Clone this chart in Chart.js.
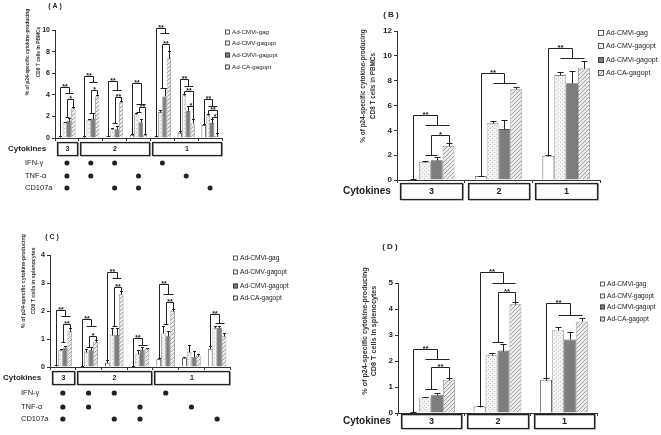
<!DOCTYPE html>
<html>
<head>
<meta charset="utf-8">
<script src="https://cdn.jsdelivr.net/npm/chart.js@4.4.0/dist/chart.umd.min.js"></script>
<style>
  html, body { margin: 0; padding: 0; background: #fff; }
  body { width: 661px; height: 435px; position: relative; overflow: hidden; }
  .panel { position: absolute; }
</style>
</head>
<body>
<div class="panel" style="left:0;top:0;width:330px;height:215px"><canvas id="chartA"></canvas></div>
<div class="panel" style="left:330px;top:0;width:331px;height:215px"><canvas id="chartB"></canvas></div>
<div class="panel" style="left:0;top:215px;width:330px;height:220px"><canvas id="chartC"></canvas></div>
<div class="panel" style="left:330px;top:215px;width:331px;height:220px"><canvas id="chartD"></canvas></div>
<script>
const seriesNames = ['Ad-CMVi-gag', 'Ad-CMV-gagopt', 'Ad-CMVi-gagopt', 'Ad-CA-gagopt']

// categories: cytokine combinations (A, C) and number of cytokines (B, D)
const comboCategories = ['IFN-γ/TNF-α/CD107a', 'IFN-γ/TNF-α', 'IFN-γ/CD107a', 'TNF-α/CD107a', 'IFN-γ', 'TNF-α', 'CD107a']
const countCategories = ['3', '2', '1']

// marker table under A and C
const markerNames = ['IFN-γ', 'TNF-α', 'CD107a']
const ifnRow = [1, 1, 1, 0, 1, 0, 0]
const tnfRow = [1, 1, 0, 1, 0, 1, 0]
const cd107aRow = [1, 0, 1, 1, 0, 0, 1]

// "Cytokines" boxes: label, first category, last category
const comboBoxes = [['3', 0, 0], ['2', 1, 3], ['1', 4, 6]]
const countBoxes = [['3', 0, 0], ['2', 1, 1], ['1', 2, 2]]

// (A) PBMCs, per combination  (one row per series)
const pbmcComboValues = [
  [0.1, 0.1, 0.15, 0.3, 0.15, 0.5, 1.2],
  [1.45, 1.7, 0.8, 2.2, 2.4, 3.95, 2.15],
  [1.6, 1.8, 0.8, 1.45, 3.85, 2.5, 1.4],
  [2.75, 3.85, 3.3, 0.25, 7.45, 1.35, 0.2],
]
const pbmcComboErrors = [
  [0.05, 0.05, 0.05, 0.1, 0.05, 0.15, 0.1],
  [0.05, 0.1, 0.1, 0.1, 0.15, 0.1, 0.1],
  [0.25, 0.5, 0.35, 0.3, 0.8, 0.45, 0.35],
  [0.15, 0.15, 0.1, 0.1, 0.6, 0.45, 0.3],
]
// significance brackets: category, left bars, left foot, right bars, right foot, top, label
const pbmcComboBrackets = [
  [0, 0, 0, null, 1, 3, 4.2, 4.75, '**'],
  [0, 1, 2, 1.97, 3, 3, null, 3.58, '*'],
  [1, 0, 0, null, 1, 3, 5.2, 5.74, '**'],
  [1, 1, 2, 2.3, 3, 3, null, 4.44, '*'],
  [2, 0, 0, null, 1, 3, 4.45, 5.28, '**'],
  [2, 1, 2, 1.4, 3, 3, null, 3.8, '**'],
  [3, 0, 0, null, 1, 3, 3.15, 5.1, '**'],
  [3, 1, 2, 2.45, 3, 3, null, 2.84, '**'],
  [4, 0, 0, null, 1, 3, 9.7, 10.15, '**'],
  [4, 1, 2, 4.6, 3, 3, null, 8.7, '**'],
  [5, 0, 0, null, 1, 3, 4.8, 5.43, '**'],
  [5, 1, 1, null, 3, 3, null, 4.38, '**'],
  [5, 2, 2, null, 3, 3, null, 3.0, '*'],
  [6, 0, 0, null, 1, 3, 2.96, 3.58, '**'],
  [6, 1, 1, null, 3, 3, null, 2.6, '**'],
  [6, 2, 2, null, 3, 3, null, 1.97, '*'],
]

// (B) PBMCs, per number of cytokines
const pbmcCountValues = [
  [0.05, 0.3, 1.95],
  [1.45, 4.6, 8.45],
  [1.6, 4.1, 7.8],
  [2.75, 7.3, 9.05],
]
const pbmcCountErrors = [
  [0.02, 0.05, 0.1],
  [0.05, 0.15, 0.25],
  [0.25, 0.7, 0.95],
  [0.2, 0.2, 0.55],
]
const pbmcCountBrackets = [
  [0, 0, 0, null, 1, 3, 4.45, 5.2, '**'],
  [0, 1, 2, 2.05, 3, 3, null, 3.6, '*'],
  [1, 0, 0, null, 1, 3, 7.85, 8.6, '**'],
  [2, 0, 0, null, 1, 3, 9.8, 10.6, '**'],
]

// (C) splenocytes, per combination
const splComboValues = [
  [0.02, 0.03, 0.15, 0.03, 0.28, 0.33, 0.65],
  [0.6, 0.55, 1.15, 0.48, 1.2, 0.55, 1.4],
  [0.7, 0.6, 1.15, 0.62, 1.1, 0.35, 1.4],
  [1.28, 0.9, 2.6, 0.65, 2.0, 0.4, 1.1],
]
const splComboErrors = [
  [0.05, 0.02, 0.1, 0.02, 0.05, 0.02, 0.1],
  [0.05, 0.1, 0.25, 0.12, 0.25, 0.25, 0.05],
  [0.05, 0.1, 0.25, 0.1, 0.2, 0.22, 0.05],
  [0.1, 0.05, 0.1, 0.03, 0.08, 0.05, 0.1],
]
const splComboBrackets = [
  [0, 0, 0, null, 1, 3, 1.82, 2.04, '**'],
  [0, 1, 2, 0.9, 3, 3, null, 1.55, '**'],
  [1, 0, 0, null, 1, 3, 1.46, 1.7, '**'],
  [1, 1, 2, 0.73, 3, 3, null, 1.1, '*'],
  [2, 0, 0, null, 1, 3, 3.17, 3.38, '**'],
  [2, 1, 2, 1.46, 3, 3, null, 2.85, '**'],
  [3, 0, 0, null, 1, 3, 0.79, 1.05, '**'],
  [4, 0, 0, null, 1, 3, 2.6, 2.95, '**'],
  [4, 1, 2, 1.53, 3, 3, null, 2.31, '**'],
  [6, 0, 0, null, 1, 3, 1.56, 1.9, '**'],
]

// (D) splenocytes, per number of cytokines
const splCountValues = [
  [0.03, 0.25, 1.28],
  [0.6, 2.22, 3.2],
  [0.7, 2.4, 2.83],
  [1.28, 4.18, 3.52],
]
const splCountErrors = [
  [0.01, 0.03, 0.06],
  [0.02, 0.07, 0.12],
  [0.06, 0.27, 0.27],
  [0.05, 0.1, 0.12],
]
const splCountBrackets = [
  [0, 0, 0, null, 1, 3, 2.08, 2.46, '**'],
  [0, 1, 2, 0.91, 3, 3, null, 1.78, '**'],
  [1, 0, 0, null, 1, 3, 4.99, 5.41, '**'],
  [1, 1, 2, 2.74, 3, 3, null, 4.64, '**'],
  [2, 0, 0, null, 1, 3, 3.77, 4.22, '**'],
]

const FONT = "'Liberation Sans', Arial, sans-serif"
Chart.defaults.font.family = FONT
Chart.defaults.color = '#222'

// bar fills: plain white, light stipple, dark gray, light hatch
function makePattern(kind) {
  const c = document.createElement('canvas')
  c.width = 4
  c.height = 4
  const g = c.getContext('2d')
  if (kind === 'dots') {
    g.fillStyle = '#f3f3f3'
    g.fillRect(0, 0, 4, 4)
    g.fillStyle = '#c2c2c2'
    g.fillRect(0, 0, 1, 1)
    g.fillRect(2, 2, 1, 1)
  } else {
    g.fillStyle = '#ededed'
    g.fillRect(0, 0, 4, 4)
    g.fillStyle = '#9c9c9c'
    for (let i = 0; i < 4; i++) g.fillRect(i, 3 - i, 1, 1)
  }
  return g.createPattern(c, 'repeat')
}
const barFills = ['#ffffff', makePattern('dots'), '#7d7d7d', makePattern('hatch')]
const barBorders = ['#222222', '#8a8a8a', '#555555', '#8a8a8a']

// draws error bars, brackets, legend, titles, cytokine boxes and marker table
function figurePlugin(p) {
  const seg = (ctx, x1, y1, x2, y2) => {
    ctx.beginPath()
    ctx.moveTo(x1, y1)
    ctx.lineTo(x2, y2)
    ctx.stroke()
  }
  return {
    id: 'figure',
    afterDatasetsDraw(chart) {
      const ctx = chart.ctx
      const ys = chart.scales.y
      const sets = chart.data.datasets
      const bx = (c, s) => chart.getDatasetMeta(s).data[c].x
      const py = (v) => Math.round(ys.getPixelForValue(v)) + 0.5
      const px = (x) => Math.round(x) + 0.5
      ctx.save()
      ctx.strokeStyle = '#222'
      ctx.lineWidth = 1
      sets.forEach((ds, s) => ds.data.forEach((v, c) => {
        const x = px(bx(c, s))
        const y1 = py(v + ds.errors[c])
        seg(ctx, x, py(v), x, y1)
        seg(ctx, x - p.cap, y1, x + p.cap, y1)
      }))
      ctx.font = `bold ${p.starSize}px ${FONT}`
      ctx.textAlign = 'center'
      ctx.textBaseline = 'bottom'
      ctx.fillStyle = '#222'
      p.brackets.forEach(([c, l0, l1, lLow, r0, r1, rLow, top, label]) => {
        const lx = px((bx(c, l0) + bx(c, l1)) / 2)
        const rx = px((bx(c, r0) + bx(c, r1)) / 2)
        const ly = py(lLow == null ? sets[l0].data[c] + sets[l0].errors[c] : lLow)
        const ry = py(rLow == null ? sets[r0].data[c] + sets[r0].errors[c] : rLow)
        const ty = py(top)
        if (l1 > l0) seg(ctx, px(bx(c, l0)), ly, px(bx(c, l1)), ly)
        if (r1 > r0) seg(ctx, px(bx(c, r0)), ry, px(bx(c, r1)), ry)
        seg(ctx, lx, ly, lx, ty)
        seg(ctx, lx, ty, rx, ty)
        seg(ctx, rx, ty, rx, ry)
        ctx.fillText(label, (lx + rx) / 2, ty + p.starSize * 0.45)
      })
      ctx.restore()
    },
    afterDraw(chart) {
      const ctx = chart.ctx
      const area = chart.chartArea
      const n = chart.data.labels.length
      const cw = (area.right - area.left) / n
      ctx.save()
      ctx.fillStyle = '#222'
      ctx.strokeStyle = '#222'

      // panel title
      ctx.font = `bold ${p.titleSize}px ${FONT}`
      ctx.textAlign = 'center'
      ctx.textBaseline = 'middle'
      ctx.fillText(p.title, p.titleX, p.titleY)

      // y axis title, two lines
      ctx.save()
      ctx.font = `bold ${p.yTitleSize}px ${FONT}`
      ctx.fillStyle = '#333'
      p.yTitle.forEach((t, i) => {
        ctx.save()
        ctx.translate(p.yTitleX[i], p.yTitleY)
        ctx.rotate(-Math.PI / 2)
        ctx.fillText(t, 0, 0)
        ctx.restore()
      })
      ctx.restore()

      // legend
      ctx.font = `${p.legendSize}px ${FONT}`
      ctx.textAlign = 'left'
      seriesNames.forEach((name, i) => {
        const y = p.legendY[i]
        const b = p.legendBox
        ctx.fillStyle = barFills[i]
        ctx.fillRect(p.legendX, y - b / 2, b, b)
        ctx.lineWidth = 0.8
        ctx.strokeStyle = '#333'
        ctx.strokeRect(p.legendX + 0.5, y - b / 2 + 0.5, b - 1, b - 1)
        ctx.fillStyle = '#222'
        ctx.fillText(name, p.legendX + b + 2, y + 0.5)
      })

      // cytokines boxes
      ctx.font = `bold ${p.cytoSize}px ${FONT}`
      ctx.fillStyle = '#222'
      ctx.textAlign = 'left'
      ctx.fillText('Cytokines', p.cytoX, (p.boxTop + p.boxBottom) / 2)
      ctx.textAlign = 'center'
      ctx.font = `bold ${p.boxFont}px ${FONT}`
      p.boxes.forEach(([label, a, b]) => {
        const x1 = Math.round(area.left + a * cw + p.boxInset) + 0.5
        const x2 = Math.round(area.left + (b + 1) * cw - p.boxInset) + 0.5
        ctx.strokeStyle = '#9a9a9a'
        ctx.lineWidth = 1
        ctx.strokeRect(x1 + 1, p.boxTop + 1, x2 - x1, p.boxBottom - p.boxTop)
        ctx.strokeStyle = '#222'
        ctx.lineWidth = 1.2
        ctx.strokeRect(x1, p.boxTop + 0.5, x2 - x1, p.boxBottom - p.boxTop)
        ctx.fillText(label, (x1 + x2) / 2, (p.boxTop + p.boxBottom) / 2 + 1)
      })

      // marker table
      if (p.markers) {
        ctx.font = `${p.markerSize}px ${FONT}`
        ctx.textAlign = 'left'
        p.markers.forEach((row, r) => {
          const y = p.markerY[r]
          ctx.fillText(markerNames[r], p.markerX, y)
          row.forEach((on, c) => {
            if (!on) return
            ctx.beginPath()
            ctx.arc(chart.scales.x.getPixelForValue(c), y, p.dotR, 0, Math.PI * 2)
            ctx.fill()
          })
        })
      }
      ctx.restore()
    },
  }
}

function makeChart(id, labels, values, errors, p) {
  const datasets = seriesNames.map((name, i) => ({
    label: name,
    data: values[i],
    errors: errors[i],
    backgroundColor: barFills[i],
    borderColor: barBorders[i],
    borderWidth: 0.8,
    categoryPercentage: p.catPct,
    barPercentage: 1,
  }))
  return new Chart(document.getElementById(id), {
    type: 'bar',
    data: { labels: labels, datasets: datasets },
    options: {
      responsive: true,
      maintainAspectRatio: false,
      animation: false,
      devicePixelRatio: 1,
      layout: { padding: p.padding },
      plugins: { legend: { display: false }, tooltip: { enabled: false } },
      scales: {
        x: {
          grid: { drawOnChartArea: false, tickLength: 3, color: '#333' },
          border: { color: '#333' },
          ticks: { display: false },
          afterFit: (s) => { s.height = 4 },
        },
        y: {
          min: 0,
          max: p.yMax,
          ticks: { stepSize: p.yStep, font: { size: p.tickSize, weight: 'bold' }, color: '#222', padding: 2 },
          grid: { drawOnChartArea: false, tickLength: 3, color: '#333' },
          border: { color: '#333' },
          afterFit: (s) => { s.width = 20 },
        },
      },
    },
    plugins: [figurePlugin(p)],
  })
}

makeChart('chartA', comboCategories, pbmcComboValues, pbmcComboErrors, {
  padding: { left: 35, right: 108, top: 30, bottom: 73 },
  yMax: 10, yStep: 2, tickSize: 7, catPct: 0.72, cap: 1.5, starSize: 7,
  brackets: pbmcComboBrackets,
  title: '( A )', titleSize: 7, titleX: 55, titleY: 6,
  yTitle: ['% of p24-specific cytokine-producing', 'CD8 T cells in PBMCs'],
  yTitleSize: 4.9, yTitleX: [28, 39], yTitleY: 52,
  legendX: 225, legendY: [32, 43, 55, 67], legendBox: 5, legendSize: 6.2,
  cytoX: 8, cytoSize: 8, boxTop: 142, boxBottom: 155, boxInset: 1.5, boxFont: 7, boxes: comboBoxes,
  markers: [ifnRow, tnfRow, cd107aRow], markerX: 25, markerY: [163, 176, 188], markerSize: 7.5, dotR: 2.5,
})

makeChart('chartB', countCategories, pbmcCountValues, pbmcCountErrors, {
  padding: { left: 47, right: 61, top: 31, bottom: 31 },
  yMax: 12, yStep: 2, tickSize: 8, catPct: 0.7, cap: 3, starSize: 8,
  brackets: pbmcCountBrackets,
  title: '( B )', titleSize: 8, titleX: 61, titleY: 15,
  yTitle: ['% of p24-specific cytokine-producing', 'CD8 T cells in PBMCs'],
  yTitleSize: 6.4, yTitleX: [33, 43], yTitleY: 86,
  legendX: 268, legendY: [33, 46, 60, 73], legendBox: 6, legendSize: 7,
  cytoX: 13, cytoSize: 10, boxTop: 183, boxBottom: 199, boxInset: 3, boxFont: 9, boxes: countBoxes,
  markers: null,
})

makeChart('chartC', comboCategories, splComboValues, splComboErrors, {
  padding: { left: 30, right: 100, top: 40, bottom: 64 },
  yMax: 4, yStep: 1, tickSize: 7, catPct: 0.72, cap: 1.5, starSize: 7,
  brackets: splComboBrackets,
  title: '( C )', titleSize: 7, titleX: 52, titleY: 22,
  yTitle: ['% of p24-specific cytokine-producing', 'CD8 T cells in splenocytes'],
  yTitleSize: 5.3, yTitleX: [24, 34], yTitleY: 66,
  legendX: 233, legendY: [43, 57, 71, 83], legendBox: 5, legendSize: 6.6,
  cytoX: 3, cytoSize: 8, boxTop: 156, boxBottom: 169, boxInset: 1.5, boxFont: 7, boxes: comboBoxes,
  markers: [ifnRow, tnfRow, cd107aRow], markerX: 21, markerY: [178, 192, 204], markerSize: 7.5, dotR: 2.6,
})

makeChart('chartD', countCategories, splCountValues, splCountErrors, {
  padding: { left: 48, right: 64, top: 68, bottom: 18 },
  yMax: 5, yStep: 1, tickSize: 8, catPct: 0.72, cap: 3, starSize: 8,
  brackets: splCountBrackets,
  title: '( D )', titleSize: 8, titleX: 60, titleY: 32,
  yTitle: ['% of p24-specific cytokine-producing', 'CD8 T cells in splenocytes'],
  yTitleSize: 7.2, yTitleX: [35, 44], yTitleY: 116,
  legendX: 270, legendY: [69, 81, 92, 104], legendBox: 5, legendSize: 6.6,
  cytoX: 13, cytoSize: 10, boxTop: 199, boxBottom: 213, boxInset: 3, boxFont: 9, boxes: countBoxes,
  markers: null,
})
</script>
</body>
</html>
